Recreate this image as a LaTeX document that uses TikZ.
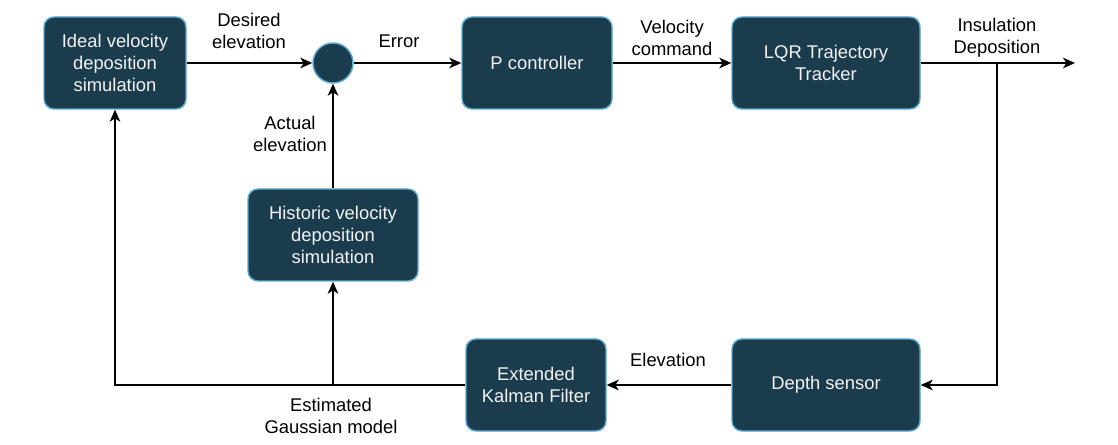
\documentclass[tikz,border=0pt]{standalone}
\usepackage{fontspec}
\setmainfont{Liberation Sans}
\usetikzlibrary{arrows.meta}
\definecolor{boxfill}{HTML}{1B3C4D}
\definecolor{boxline}{HTML}{5BA8D0}
\definecolor{boxtext}{HTML}{F2F2F2}
\begin{document}
\begin{tikzpicture}[x=0.75pt,y=-0.75pt,
 block/.style={rectangle, rounded corners=7.5pt, draw=boxline, fill=boxfill, line width=1.1pt, text=boxtext, align=center, font=\fontsize{13.8}{16.5}\selectfont, inner sep=0pt},
 sumnode/.style={circle, draw=boxline, fill=boxfill, line width=1.1pt, minimum size=30pt, inner sep=0pt},
 lbl/.style={align=center, font=\fontsize{13.8}{16.5}\selectfont, text=black, inner sep=0pt},
 conn/.style={line width=0.9pt, -{Stealth[length=9pt,width=8pt,inset=2.5pt]}},
 wire/.style={line width=0.9pt}]
\useasboundingbox (0,0) rectangle (1118,445);
\node[block, minimum width=106.5pt, minimum height=69pt] (ideal) at (115,63) {Ideal velocity\\deposition\\simulation};
\node[sumnode] (sum) at (333,63) {};
\node[block, minimum width=112.5pt, minimum height=69pt] (pc) at (537,63) {P controller};
\node[block, minimum width=141pt, minimum height=69pt] (lqr) at (826,63) {LQR Trajectory\\Tracker};
\node[block, minimum width=127.5pt, minimum height=69pt] (hist) at (333,235) {Historic velocity\\deposition\\simulation};
\node[block, minimum width=105pt, minimum height=69pt] (ekf) at (536,385) {Extended\\Kalman Filter};
\node[block, minimum width=141pt, minimum height=69pt] (depth) at (826,385) {Depth sensor};
\coordinate (out) at (1075,63);
\coordinate (tap) at (997,63);
\coordinate (bj) at (333,385);
\draw[conn] (ideal.east) -- (sum.west);
\draw[conn] (sum.east) -- (pc.west);
\draw[conn] (pc.east) -- (lqr.west);
\draw[conn] (lqr.east) -- (out);
\draw[conn] (tap) |- (depth.east);
\draw[conn] (depth.west) -- (ekf.east);
\draw[conn] (ekf.west) -| (ideal.south);
\draw[conn] (bj) -- (hist.south);
\draw[conn] (hist.north) -- (sum.south);
\node[lbl] (l1) at (249,31) {Desired\\elevation};
\node[lbl] (l2) at (399,41) {Error};
\node[lbl] (l3) at (672,38) {Velocity\\command};
\node[lbl] (l4) at (997,38) {Insulation\\Deposition};
\node[lbl] (l5) at (290,134) {Actual\\elevation};
\node[lbl] (l6) at (668,360) {Elevation};
\node[lbl] (l7) at (331,416) {Estimated\\Gaussian model};
\end{tikzpicture}
\end{document}
